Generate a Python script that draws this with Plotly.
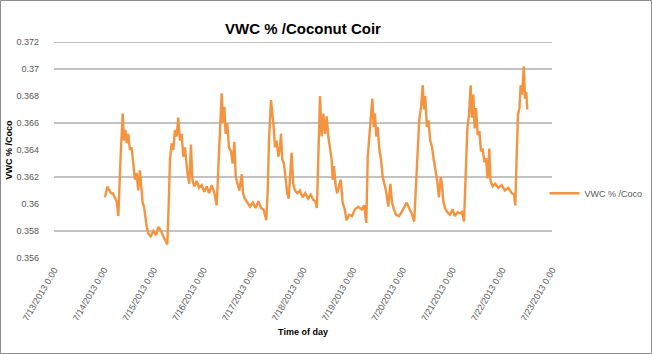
import pandas as pd
import plotly.graph_objects as go

# hours elapsed since 7/13/2013 0:00
hours = [
    24.6, 25.7, 26.7, 27.5, 28.3, 29.4, 30.2, 31.0, 31.5, 32.1, 33.1, 33.7, 34.4, 35.0, 35.8, 36.6,
    37.4, 38.2, 39.0, 39.8, 40.6, 41.4, 42.1, 42.7, 43.4, 44.0, 44.7, 45.5, 46.6, 47.9, 49.2, 50.3,
    51.6, 52.7, 53.8, 54.6, 55.3, 55.9, 56.7, 57.5, 58.3, 59.1, 59.9, 60.7, 61.5, 62.3, 63.1, 64.3,
    65.2,
    66.0, 66.7, 67.6, 68.8, 69.9, 71.2, 72.4, 73.6, 74.7, 76.0, 77.3, 78.4, 79.2, 80.0, 80.8, 81.4,
    82.1, 82.7, 83.5, 84.3, 85.3, 86.1, 86.9, 87.6, 88.4, 89.3, 90.5, 91.1, 92.0, 93.2, 94.5, 95.8,
    97.2, 98.5, 99.8, 101.0, 102.3, 103.0, 103.6, 104.6,
    105.7, 106.5, 107.3, 108.1, 108.9, 109.4, 110.0, 110.8, 111.7, 112.4, 113.1, 113.7, 114.5,
    115.3, 116.1, 117.3, 118.5, 119.8, 121.1, 122.4, 123.7, 125.0, 125.9, 126.7, 127.4, 128.2,
    129.0, 129.8, 130.6, 131.4, 132.2, 133.0, 133.8, 134.3, 134.9, 135.8, 136.5, 137.3, 138.2,
    139.1, 140.1, 141.0, 142.3, 143.6, 145.0, 146.6,
    148.3, 149.5, 150.5, 151.2, 151.9, 152.8, 153.4, 154.1, 154.7, 155.3, 156.0, 156.8, 157.6,
    158.4, 159.2, 160.0, 161.1, 162.1, 162.9, 163.8, 164.9, 166.3, 167.5, 168.8, 170.0, 171.1,
    172.4, 173.6, 174.5, 175.3, 176.0, 176.9, 177.7, 178.3, 178.9, 179.7, 180.5, 181.3, 182.2,
    183.0, 183.8, 184.6, 185.5, 186.4, 187.1,
    187.6, 188.4, 189.5, 190.8, 192.1, 193.2, 194.5, 195.7, 196.6, 197.6, 198.4, 199.2, 200.0,
    200.8, 201.4, 202.1, 202.7, 203.4, 204.2, 205.0, 205.8, 206.6, 207.4, 208.2, 209.0, 209.8,
    210.4, 211.4, 212.7, 214.1, 215.7, 217.3, 218.9, 220.6, 221.7, 222.3, 223.0, 223.6, 224.3,
    224.9, 225.6, 226.4, 227.0, 227.6, 228.1,
]
vwc = [
    0.3605, 0.3613, 0.3610, 0.3608, 0.3608, 0.3604, 0.3602, 0.3591, 0.3618, 0.3635, 0.3667, 0.3647,
    0.3655, 0.3645, 0.3652, 0.3640, 0.3642, 0.3628, 0.3618, 0.3623, 0.3610, 0.3625, 0.3610, 0.3601,
    0.3598, 0.3591, 0.3583, 0.3578, 0.3576, 0.3580, 0.3577, 0.3583, 0.3580, 0.3576, 0.3573, 0.3570,
    0.3601, 0.3633, 0.3645, 0.3640, 0.3655, 0.3650, 0.3664, 0.3647, 0.3652, 0.3635, 0.3642, 0.3623,
    0.3615,
    0.3644, 0.3618, 0.3613, 0.3617, 0.3612, 0.3614, 0.3609, 0.3613, 0.3608, 0.3614, 0.3608, 0.3599,
    0.3625, 0.3652, 0.3682, 0.3660, 0.3672, 0.3652, 0.3660, 0.3642, 0.3639, 0.3630, 0.3646, 0.3620,
    0.3615, 0.3610, 0.3622, 0.3608, 0.3604, 0.3601, 0.3598, 0.3601, 0.3597, 0.3602, 0.3597, 0.3596,
    0.3588, 0.3610, 0.3647, 0.3677,
    0.3660, 0.3642, 0.3647, 0.3635, 0.3642, 0.3652, 0.3633, 0.3630, 0.3618, 0.3608, 0.3604, 0.3618,
    0.3638, 0.3615, 0.3610, 0.3608, 0.3610, 0.3605, 0.3608, 0.3604, 0.3607, 0.3603, 0.3602, 0.3597,
    0.3638, 0.3680, 0.3650, 0.3667, 0.3652, 0.3665, 0.3650, 0.3642, 0.3633, 0.3618, 0.3628, 0.3613,
    0.3608, 0.3613, 0.3618, 0.3601, 0.3596, 0.3588, 0.3592, 0.3591, 0.3596, 0.3598,
    0.3596, 0.3599, 0.3586, 0.3635, 0.3650, 0.3662, 0.3678, 0.3657, 0.3667, 0.3650, 0.3657, 0.3640,
    0.3633, 0.3620, 0.3615, 0.3610, 0.3598, 0.3615, 0.3601, 0.3596, 0.3592, 0.3591, 0.3594, 0.3598,
    0.3601, 0.3597, 0.3593, 0.3587, 0.3618, 0.3650, 0.3662, 0.3672, 0.3688, 0.3670, 0.3680, 0.3657,
    0.3662, 0.3647, 0.3642, 0.3633, 0.3625, 0.3618, 0.3605, 0.3620, 0.3613,
    0.3602, 0.3597, 0.3594, 0.3592, 0.3596, 0.3591, 0.3594, 0.3593, 0.3594, 0.3587, 0.3619, 0.3656,
    0.3666, 0.3688, 0.3664, 0.3681, 0.3656, 0.3671, 0.3651, 0.3654, 0.3639, 0.3641, 0.3631, 0.3634,
    0.3619, 0.3641, 0.3617, 0.3613, 0.3615, 0.3612, 0.3614, 0.3610, 0.3612, 0.3608, 0.3607, 0.3599,
    0.3636, 0.3666, 0.3671, 0.3688, 0.3681, 0.3702, 0.3678, 0.3683, 0.3670,
]

start = pd.Timestamp("2013-07-13 00:00")
times = start + pd.to_timedelta(hours, unit="h")

x_ticks = pd.date_range("2013-07-13", "2013-07-23", freq="D")
x_ticktext = [f"{d.month}/{d.day}/{d.year} 0:00" for d in x_ticks]
y_ticks = [0.356, 0.358, 0.36, 0.362, 0.364, 0.366, 0.368, 0.37, 0.372]
y_ticktext = ["0.356", "0.358", "0.36", "0.362", "0.364", "0.366", "0.368", "0.37", "0.372"]
y_grid = [0.358, 0.362, 0.366, 0.37, 0.372]

FONT = "Liberation Sans Narrow, Liberation Sans, Arial, sans-serif"
GRAY = "#595959"

fig = go.Figure()
fig.add_trace(go.Scatter(x=times, y=vwc, mode="lines", name="VWC % /Coco",
                         line=dict(color="#F39440", width=2.4)))

for g in y_grid:
    fig.add_shape(type="line", xref="paper", yref="y", x0=0, x1=1, y0=g, y1=g,
                  line=dict(color="#868686", width=1), layer="below")

fig.add_shape(type="rect", xref="paper", yref="paper",
              x0=-53.5 / 498, x1=597.5 / 498, y0=-95.5 / 216, y1=257.5 / 216,
              line=dict(color="#8c8c8c", width=1))

fig.update_layout(
    width=652, height=354,
    margin=dict(l=54, r=100, t=42, b=96, autoexpand=False),
    paper_bgcolor="white", plot_bgcolor="white",
    font=dict(family=FONT, color=GRAY, size=9),
    title=dict(text="<b>VWC % /Coconut Coir</b>", x=0.5, xref="paper", y=0.935, yref="container",
               font=dict(size=15, color="#000000", family=FONT)),
    showlegend=True,
    legend=dict(x=0.985, y=0.30, xanchor="left", yanchor="middle", itemwidth=30,
                font=dict(size=9, color=GRAY), bgcolor="rgba(0,0,0,0)"),
    xaxis=dict(range=[x_ticks[0], x_ticks[-1]], tickvals=x_ticks, ticktext=x_ticktext,
               tickangle=-60, showgrid=False, zeroline=False, showline=False,
               ticks="", ticklabelstandoff=4,
               title=dict(text="<b>Time of day</b>", font=dict(size=9, color="#000000"), standoff=6)),
    yaxis=dict(range=[0.356, 0.372], tickvals=y_ticks, ticktext=y_ticktext,
               showgrid=False, zeroline=False, showline=False, ticks="",
               ticklabelstandoff=14,
               title=dict(text="<b>VWC % /Coco</b>", font=dict(size=9, color="#000000"), standoff=2)),
)

fig.write_html("out.html")
